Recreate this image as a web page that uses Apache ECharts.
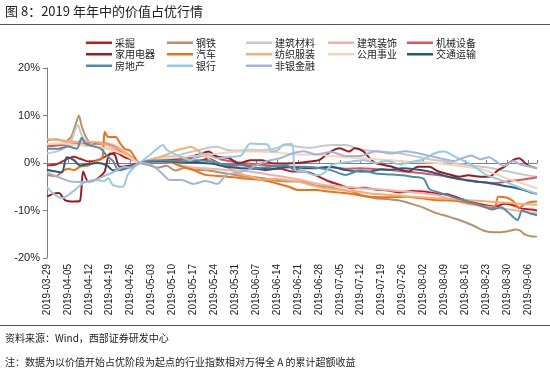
<!DOCTYPE html>
<html>
<head>
<meta charset="utf-8">
<script src="https://cdn.jsdelivr.net/npm/echarts@6/dist/echarts.min.js"></script>
<style>
  html, body { margin: 0; padding: 0; background: #fff; }
  #chart { width: 550px; height: 375px; }
</style>
</head>
<body>
<div id="chart"></div>
<script>
// x = trading-day offset in calendar days from 2019-03-29, y = cumulative excess return (%)
const startDate = [2019, 2, 29]
const names = ['采掘', '钢铁', '建筑材料', '建筑装饰', '机械设备', '家用电器', '汽车', '纺织服装', '公用事业', '交通运输', '房地产', '银行', '非银金融']
const colors = ['#C8161D', '#B8916A', '#C8C8C8', '#F2AFA8', '#E0525D', '#9B1C20', '#F07014', '#F5AE70', '#F6D2B6', '#245B7E', '#4A8EAC', '#93CDE3', '#A4B4D9']
const legendCols = [
  ['采掘', '家用电器', '房地产'],
  ['钢铁', '汽车', '银行'],
  ['建筑材料', '纺织服装', '非银金融'],
  ['建筑装饰', '公用事业'],
  ['机械设备', '交通运输']
]
const legendLeft = [86, 167, 246, 328, 407]

const caiJue = [[0,-0.5],[3,-0.3],[6,0.6],[9,1.3],[11,0.9],[14,0.3],[17,0.6],[20,1.5],[23,2.2],[26,1.2],[29,0.6],[31,0],[34,0.6],[38,0.9],[42,0.5],[46,0.8],[50,0.4],[54,0.9],[58,-0.2],[62,-0.6],[66,-0.4],[70,-1.0],[74,-1.3],[78,-1.2],[82,-1.8],[86,-1.8],[90,-2.6],[94,-3.8],[98,-4.6],[102,-5.3],[106,-5.2],[110,-5.6],[114,-5.8],[118,-6.2],[122,-5.9],[126,-6.0],[130,-6.4],[134,-6.6],[138,-7.4],[142,-8.2],[146,-8.8],[150,-9.2],[153,-8.6],[156,-8.9],[159,-9.6],[162,-9.8],[164,-10.0]]
const gangTie = [[0,4.8],[3,5.0],[6,4.6],[8,5.4],[9.5,8.0],[10.7,10.0],[11.5,8.0],[13,5.5],[15,4.0],[18,4.2],[21,3.8],[24,3.1],[26,1.7],[29,0.8],[31,0],[34,-0.4],[37,-1.0],[40,-0.6],[43,-1.6],[46,-1.0],[50,-1.4],[54,-1.6],[58,-2.0],[62,-2.4],[66,-2.8],[70,-3.0],[74,-3.4],[78,-3.8],[82,-3.9],[86,-4.0],[90,-4.8],[94,-5.0],[98,-5.6],[102,-6.0],[106,-6.9],[110,-7.4],[114,-7.6],[118,-7.9],[122,-8.6],[126,-9.4],[130,-10.5],[134,-11.2],[138,-12.0],[142,-13.0],[146,-14.2],[150,-14.6],[154,-14.4],[157,-14.0],[158.5,-14.3],[160,-15.1],[162,-15.4],[164,-15.5]]
const jianCai = [[0,2.0],[3,2.4],[6,3.2],[8,4.5],[10.3,8.0],[11.5,6.0],[13,4.5],[16,3.6],[19,3.2],[22,3.0],[25,2.4],[28,1.0],[31,0],[34,0.6],[38,1.2],[42,1.4],[46,2.0],[50,2.6],[54,3.2],[57,3.4],[60,2.8],[64,2.6],[68,2.8],[72,2.7],[76,3.0],[80,3.8],[84,3.4],[88,3.2],[92,3.6],[96,3.8],[100,3.8],[104,3.0],[108,2.6],[112,2.4],[116,2.2],[120,1.8],[124,1.3],[128,0.8],[132,0.4],[136,0],[140,-0.4],[144,-0.7],[148,-1.0],[152,-1.5],[156,-2.0],[160,-2.5],[164,-2.9]]
const jianZhuang = [[0,3.8],[4,4.0],[8,4.3],[12,4.6],[16,4.4],[20,4.2],[23,3.6],[26,2.4],[29,1.0],[31,0],[35,0.3],[40,0.2],[45,-0.5],[50,-1.0],[55,-1.2],[60,-1.5],[65,-1.6],[70,-2.0],[75,-2.5],[80,-3.0],[85,-3.6],[90,-4.3],[95,-4.8],[100,-5.0],[105,-5.3],[110,-5.5],[115,-5.8],[120,-6.0],[125,-6.3],[130,-6.7],[135,-7.6],[140,-8.5],[145,-9.0],[150,-9.4],[155,-9.8],[160,-10.3],[164,-10.6]]
const jiXie = [[0,3.5],[5,3.8],[10,4.0],[15,4.1],[20,3.9],[23,3.2],[27,1.5],[31,0],[35,0.5],[40,0.6],[45,0.8],[50,1.2],[54,1.8],[58,0.8],[62,0.3],[66,0],[70,-0.3],[75,-0.5],[80,-0.8],[85,-0.8],[90,-1.0],[95,-0.9],[100,-1.2],[105,-1.1],[110,-1.3],[115,-1.5],[120,-1.8],[125,-2.1],[130,-2.5],[135,-3.0],[140,-3.5],[145,-4.0],[150,-4.2],[155,-3.8],[160,-3.4],[164,-3.0]]
const jiaDian = [[0,-7.1],[2,-6.5],[4,-6.3],[6,-7.8],[9,-8.1],[11,-8.0],[12.1,-1.8],[13.8,-3.9],[16,-3.6],[17.7,-2.9],[19.3,-1.8],[21,2.0],[22.7,1.7],[24.3,-0.8],[28,-0.5],[31,0],[35,0.4],[39,0.6],[44,1.0],[48,1.3],[51,1.8],[54,2.4],[57,1.3],[61,1.0],[64,-0.1],[68,0.6],[72,0.6],[76,-0.1],[80,-0.1],[84,0],[88,0.3],[91,0.6],[95,2.4],[98,3.1],[101,2.4],[103,3.1],[106,2.4],[108,1.0],[110,0],[115,-0.7],[121,-1.8],[124,-0.8],[128,-0.8],[131,-1.8],[134,-2.3],[138,-2.9],[141,-2.6],[145,-2.9],[148,-2.9],[151,-1.5],[153,-0.8],[156,0.6],[158,1.0],[159,0.6],[161,-0.5],[164,-1.1]]
const qiChe = [[0,-2.5],[3,-2.8],[5,-1.8],[7,-1.2],[9,-1.5],[11,-0.8],[14,-0.5],[16,0.3],[18.5,1.0],[19.3,6.6],[20.5,5.5],[23,5.5],[24.5,4.1],[26,3.0],[28,2.5],[31,0],[35,0.5],[40,0.6],[44,-0.5],[49,-1.5],[53,-2.5],[59,-2.8],[65,-3.2],[72,-3.6],[77,-4.3],[81,-5.0],[84,-5.7],[90,-5.7],[94,-6.0],[101,-6.4],[108,-7.1],[114,-7.2],[120,-7.1],[126,-7.5],[130,-7.8],[135,-7.9],[139,-8.1],[144,-8.8],[148,-9.5],[150,-9.3],[151,-7.1],[154,-7.3],[156,-8.0],[158,-9.5],[160,-8.6],[162,-8.2],[164,-8.1]]
const fangZhi = [[0,5.0],[4,4.8],[8,4.6],[11,4.2],[13,3.6],[16,4.4],[19,4.0],[22,3.4],[25,2.6],[28,1.2],[31,0],[35,0.8],[39,1.5],[43,2.6],[46,3.1],[48,3.4],[51,2.4],[55,0.5],[57,0],[61,-1.2],[64,-2.2],[68,-2.8],[72,-3.5],[76,-3.3],[80,-3.6],[84,-3.9],[88,-4.6],[92,-5.2],[96,-5.5],[100,-5.8],[104,-6.0],[108,-6.4],[112,-6.6],[116,-6.8],[120,-7.0],[125,-7.2],[130,-7.4],[135,-7.6],[140,-7.8],[145,-8.0],[150,-8.2],[155,-8.4],[160,-8.7],[164,-8.8]]
const gongYong = [[0,4.0],[5,4.1],[10,3.8],[15,3.6],[20,3.0],[25,2.0],[28,1.0],[31,0],[35,0.5],[40,1.0],[45,1.2],[50,1.5],[55,1.8],[60,2.2],[65,2.4],[70,2.4],[75,2.3],[80,2.0],[85,1.8],[90,1.8],[95,1.5],[100,1.2],[105,1.0],[110,0.8],[115,0.6],[120,0.3],[125,0.2],[130,0],[135,-0.4],[140,-0.8],[145,-1.2],[150,-2.3],[155,-3.5],[160,-4.5],[164,-5.3]]
const jiaoTong = [[0,-1.4],[3,-1.8],[5,-2.0],[6.6,1.2],[9,0.6],[11,-0.5],[14,-0.2],[17,0],[20,-0.5],[22,-1.5],[25,-1.4],[28,-0.8],[31,0],[35,0.3],[40,0.3],[45,0.2],[50,0.1],[55,-0.1],[60,-0.8],[65,-1.1],[70,-1.2],[73,-1.5],[77,-1.1],[81,-0.9],[85,-1.1],[90,-1.1],[95,-0.8],[100,-1.5],[105,-1.8],[108,-1.8],[112,-1.3],[115,-1.4],[119,-1.1],[123,-1.3],[127,-1.7],[131,-2.3],[135,-3.0],[139,-3.5],[143,-3.9],[147,-4.1],[151,-4.6],[155,-5.0],[159,-5.6],[162,-6.2],[164,-6.5]]
const fangDiChan = [[0,3.0],[4,3.0],[7,3.5],[10,3.0],[11.6,5.3],[13,4.0],[15,3.6],[18,3.0],[20,1.5],[22,0.5],[24,-1.5],[27,-1.0],[29,-0.5],[31,0],[35,0.5],[40,0.6],[45,0.3],[50,0.6],[55,0.3],[60,-0.4],[65,-0.4],[70,-1.1],[75,-0.8],[80,-0.4],[83,-1.5],[86,-0.8],[90,-1.0],[95,-1.5],[100,-2.5],[105,-1.5],[110,-2.2],[115,-2.4],[119,-2.6],[122,-2.9],[126,-3.3],[128,-5.5],[131,-6.2],[134,-6.8],[137,-7.4],[141,-8.1],[145,-8.8],[149,-9.8],[152,-9.3],[154,-10.2],[157.5,-12.0],[159,-10.0],[162,-10.7],[164,-11.0]]
const yinHang = [[0,-5.0],[2,-6.4],[5,-7.4],[9.3,-5.7],[12,-4.3],[16,-3.6],[19,-3.8],[20.5,-3.2],[22,-4.6],[25.4,-5.0],[27,-2.5],[29,-1.0],[31,0],[35,2.0],[38.8,3.8],[40,2.8],[44,1.5],[48,0.6],[52,2.0],[57,1.0],[61,1.3],[65,1.6],[68,4.1],[71,4.0],[74,3.8],[75,2.4],[77,2.6],[79,3.8],[82,4.0],[83,-1.5],[86,-1.8],[90,-2.6],[93,-2.0],[95,-0.5],[98,0],[102,0.3],[106,0.6],[110,0],[114,0.4],[118,-0.3],[122,0.2],[126,0.8],[130,2.1],[133,2.4],[136,1.5],[141,0],[144,-1.2],[147,-2.5],[152,-3.6],[156,-4.6],[160,-5.6],[164,-6.5]]
const feiYin = [[0,-2.0],[4,-3.0],[8,-3.9],[13,-4.0],[16,-3.6],[20,-2.5],[22,-2.0],[26,-0.8],[28,-1.0],[31,0],[35,-0.4],[39,-2.5],[41,-3.6],[45,-3.6],[49,-4.4],[53,-3.8],[57,-4.4],[60,-2.5],[64,-2.0],[67,-1.5],[70,-0.5],[74,0.5],[78,1.0],[82,2.0],[86,2.5],[90,1.8],[95,2.3],[100,1.5],[105,1.5],[110,2.5],[115,2.0],[120,2.5],[123,2.2],[126,1.8],[130,1.2],[133,0.8],[136,0.4],[139,1.0],[142,1.6],[145,0.8],[148,1.2],[151,0],[153,-0.6],[156,0.4],[158,-0.2],[161,-0.7],[164,-1.1]]

const seriesData = [caiJue, gangTie, jianCai, jianZhuang, jiXie, jiaDian, qiChe, fangZhi, gongYong, jiaoTong, fangDiChan, yinHang, feiYin]

const yTicks = { min: -20, max: 20, interval: 10 }
const xRange = { min: 0, max: 164, interval: 7 }

const titleText = '图 8：2019 年年中的价值占优行情'
const sourceText = '资料来源：Wind，西部证券研发中心'
const noteText = '注：数据为以价值开始占优阶段为起点的行业指数相对万得全 A 的累计超额收益'

const CJK = '"Noto Sans CJK SC", "Liberation Sans", sans-serif'
const LAT = '"Liberation Sans", Arial, sans-serif'

function dayLabel(v) {
  if (v % 7 !== 0) return ''
  const d = new Date(Date.UTC(startDate[0], startDate[1], startDate[2] + v))
  const p = n => (n < 10 ? '0' : '') + n
  return d.getUTCFullYear() + '-' + p(d.getUTCMonth() + 1) + '-' + p(d.getUTCDate())
}

const chart = echarts.init(document.getElementById('chart'), null, { renderer: 'canvas' })

const legends = legendCols.map((col, i) => ({
  show: true,
  orient: 'vertical',
  left: legendLeft[i],
  top: 37,
  data: col,
  selectedMode: false,
  icon: 'rect',
  itemWidth: 26,
  itemHeight: 2.5,
  itemGap: 0,
  padding: 0,
  textStyle: { fontFamily: CJK, fontSize: 10, color: '#222', lineHeight: 11.5, padding: [0, 0, 0, -2] }
}))

chart.setOption({
  animation: false,
  backgroundColor: '#fff',
  legend: legends,
  grid: { left: 47, right: 13, top: 68, bottom: 117, containLabel: false },
  xAxis: [
    {
      type: 'value', min: xRange.min, max: xRange.max, interval: xRange.interval,
      axisLine: { show: false, onZero: false },
      axisTick: { show: false },
      splitLine: { show: false },
      axisLabel: { rotate: 90, fontFamily: LAT, fontSize: 10, color: '#222', margin: 6, showMaxLabel: false, formatter: dayLabel }
    },
    {
      type: 'value', min: xRange.min, max: xRange.max, interval: xRange.interval,
      position: 'bottom',
      axisLine: { show: true, onZero: true, lineStyle: { color: '#808080', width: 1 } },
      axisTick: { show: true, inside: true, length: 3, lineStyle: { color: '#808080' } },
      axisLabel: { show: false },
      splitLine: { show: false }
    }
  ],
  yAxis: {
    type: 'value', min: yTicks.min, max: yTicks.max, interval: yTicks.interval,
    axisLine: { show: true, lineStyle: { color: '#808080', width: 1 } },
    axisTick: { show: true, length: 4, lineStyle: { color: '#808080' } },
    splitLine: { show: false },
    axisLabel: { fontFamily: LAT, fontSize: 11, color: '#222', margin: 7, formatter: '{value}%' }
  },
  series: names.map((n, i) => ({
    name: n,
    type: 'line',
    xAxisIndex: 0,
    data: seriesData[i],
    showSymbol: false,
    symbol: 'none',
    smooth: 0.25,
    color: colors[i],
    lineStyle: { width: 2, color: colors[i] },
    z: 2 + i
  })),
  graphic: [
    { type: 'text', left: 5, top: 5, style: { text: titleText, fontFamily: CJK, fontSize: 13, fill: '#222' } },
    { type: 'line', shape: { x1: 0, y1: 24.5, x2: 550, y2: 24.5 }, style: { stroke: '#555', lineWidth: 1 } },
    { type: 'line', shape: { x1: 0, y1: 325.5, x2: 550, y2: 325.5 }, style: { stroke: '#555', lineWidth: 1 } },
    { type: 'text', left: 5, top: 333, style: { text: sourceText, fontFamily: CJK, fontSize: 10, fill: '#222' } },
    { type: 'text', left: 5, top: 357, style: { text: noteText, fontFamily: CJK, fontSize: 10, fill: '#222' } }
  ]
})
</script>
</body>
</html>
